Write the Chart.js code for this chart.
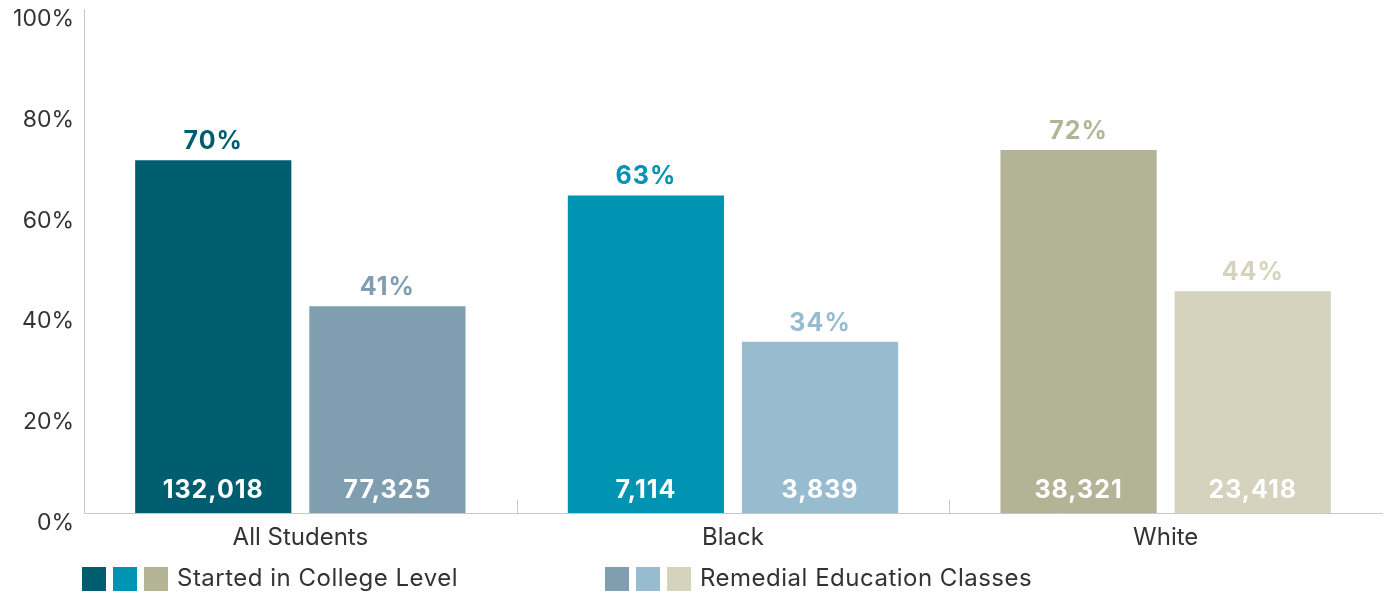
<!DOCTYPE html>
<html>
<head>
<meta charset="utf-8">
<script src="https://cdn.jsdelivr.net/npm/chart.js@4"></script>
<style>
  body { margin: 0; background: #fff; }
</style>
</head>
<body>
<canvas id="myChart" width="1385" height="594"></canvas>
<script>
const categories = ['All Students', 'Black', 'White'];
const collegePct = [70, 63, 72];
const remedialPct = [41, 34, 44];
const collegeCounts = [132018, 7114, 38321];
const remedialCounts = [77325, 3839, 23418];
const yTicks = [0, 20, 40, 60, 80, 100];

const collegeColors = ['#005D70', '#0093B2', '#B3B396'];
const remedialColors = ['#7F9FB0', '#97BCD0', '#D5D3BD'];
const legendNames = ['Started in College Level', 'Remedial Education Classes'];
const FONT = 'Inter, "DejaVu Sans", sans-serif';

// value labels: percent above, count inside the bottom of each bar
const barLabels = {
    id: 'barLabels',
    afterDatasetsDraw(chart) {
        const ctx = chart.ctx;
        const counts = [collegeCounts, remedialCounts];
        chart.data.datasets.forEach((ds, di) => {
            const meta = chart.getDatasetMeta(di);
            meta.data.forEach((bar, i) => {
                ctx.save();
                ctx.textAlign = 'center';
                ctx.textBaseline = 'alphabetic';
                ctx.font = '700 25px ' + FONT;
                ctx.letterSpacing = '1px';
                ctx.fillStyle = ds.backgroundColor[i];
                ctx.fillText(ds.data[i] + '%', bar.x, bar.y - 11);
                ctx.fillStyle = '#fff';
                ctx.fillText(counts[di][i].toLocaleString('en-US'), bar.x, bar.base - 15);
                ctx.restore();
            });
        });
    }
};

// short separator ticks between categories + custom legend
const extras = {
    id: 'extras',
    afterDraw(chart) {
        const ctx = chart.ctx;
        const xs = chart.scales.x;
        const bottom = chart.chartArea.bottom;
        ctx.save();
        ctx.strokeStyle = '#c8c8c8';
        ctx.lineWidth = 1;
        for (let i = 1; i < categories.length; i++) {
            const x = Math.round((xs.getPixelForTick(i - 1) + xs.getPixelForTick(i)) / 2) + 0.5;
            ctx.beginPath();
            ctx.moveTo(x, bottom - 13);
            ctx.lineTo(x, bottom);
            ctx.stroke();
        }
        const groups = [[collegeColors, 82], [remedialColors, 605]];
        const y = bottom + 54;
        groups.forEach(([cols, x0], gi) => {
            let x = x0;
            cols.forEach(c => {
                ctx.fillStyle = c;
                ctx.fillRect(x, y, 24, 24);
                x += 31;
            });
            ctx.fillStyle = '#333';
            ctx.font = '400 24px ' + FONT;
            ctx.letterSpacing = '0.5px';
            ctx.textBaseline = 'middle';
            ctx.textAlign = 'left';
            ctx.fillText(legendNames[gi], x + 2, y + 12);
        });
        ctx.restore();
    }
};

new Chart(document.getElementById('myChart'), {
    type: 'bar',
    data: {
        labels: categories,
        datasets: [
            {
                label: legendNames[0],
                data: collegePct,
                backgroundColor: collegeColors,
                categoryPercentage: 0.805,
                barPercentage: 0.897
            },
            {
                label: legendNames[1],
                data: remedialPct,
                backgroundColor: remedialColors,
                categoryPercentage: 0.805,
                barPercentage: 0.897
            }
        ]
    },
    options: {
        responsive: false,
        animation: false,
        layout: { padding: { top: 9, right: 3, left: 0, bottom: 0 } },
        plugins: {
            legend: { display: false },
            tooltip: { enabled: false }
        },
        scales: {
            x: {
                grid: { display: false },
                border: { color: '#c8c8c8', width: 1 },
                ticks: {
                    color: '#333',
                    padding: 2,
                    font: { family: FONT, size: 24 }
                },
                afterFit(scale) { scale.height = 81; }
            },
            y: {
                min: 0,
                max: 100,
                afterBuildTicks(scale) { scale.ticks = yTicks.map(v => ({ value: v })); },
                grid: { display: false },
                border: { color: '#c8c8c8', width: 1 },
                ticks: {
                    color: '#333',
                    padding: 2,
                    labelOffset: 10,
                    font: { family: FONT, size: 23 },
                    callback: v => v + '%'
                },
                afterFit(scale) {
                    scale.width = 84;
                    scale.paddingTop = 0;
                    scale.paddingBottom = 0;
                }
            }
        }
    },
    plugins: [barLabels, extras]
});
</script>
</body>
</html>
